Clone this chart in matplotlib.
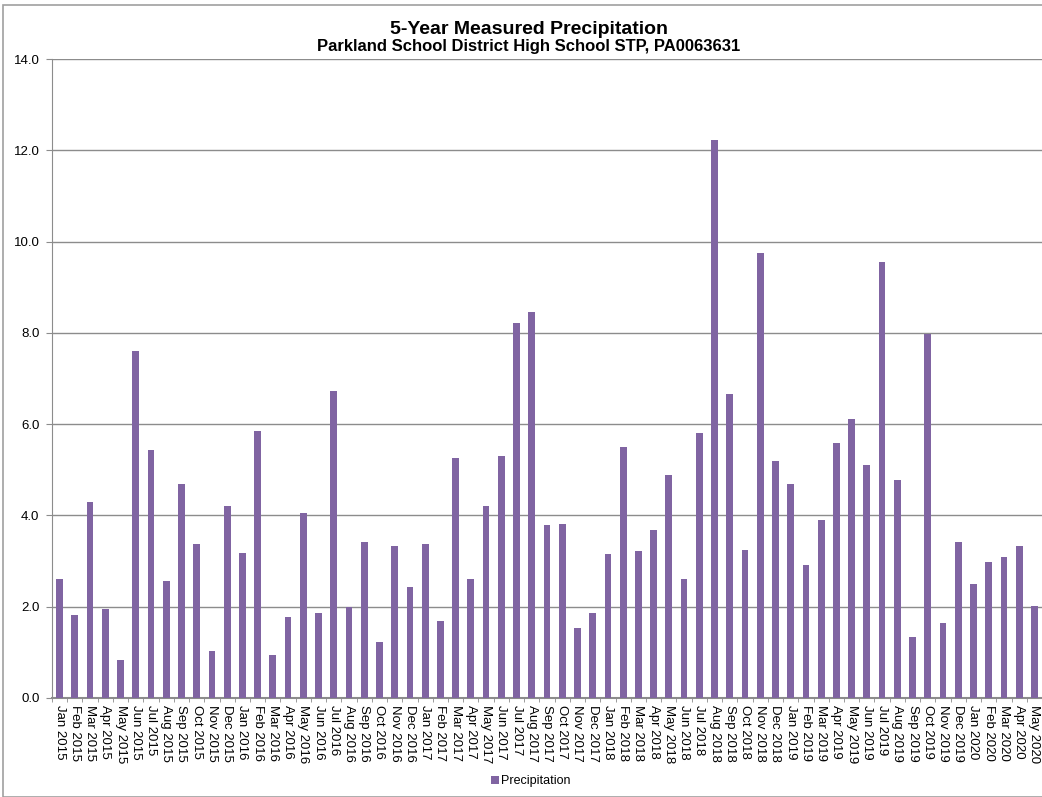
import matplotlib
matplotlib.use("Agg")
import matplotlib.pyplot as plt
from matplotlib.patches import Rectangle

plt.rcParams['font.family'] = ['Liberation Sans', 'DejaVu Sans']

months = ["Jan", "Feb", "Mar", "Apr", "May", "Jun", "Jul", "Aug", "Sep", "Oct", "Nov", "Dec"]
labels = [f"{m} {y}" for y in range(2015, 2021) for m in months][:65]

precip = [2.61, 1.82, 4.29, 1.95, 0.83, 7.60, 5.43, 2.56, 4.69, 3.37, 1.03, 4.21,
          3.18, 5.85, 0.94, 1.77, 4.05, 1.86, 6.73, 1.99, 3.42, 1.23, 3.33, 2.43,
          3.37, 1.69, 5.26, 2.61, 4.21, 5.30, 8.22, 8.46, 3.79, 3.81, 1.53, 1.86,
          3.16, 5.50, 3.22, 3.68, 4.89, 2.61, 5.81, 12.23, 6.66, 3.24, 9.75, 5.19,
          4.69, 2.91, 3.90, 5.59, 6.11, 5.10, 9.55, 4.78, 1.34, 7.98, 1.64, 3.42,
          2.50, 2.98, 3.09, 3.33, 2.02]

W, H = 1042, 797
fig = plt.figure(figsize=(W / 100, H / 100), dpi=100)
fig.patches.append(Rectangle((3 / W, 0), 1, 1 - 5 / H, transform=fig.transFigure,
                             fill=False, edgecolor='#a0a0a0', linewidth=1.2))

ax = fig.add_axes([52 / W, 1 - 698 / H, 1 - 52 / W, (698 - 59) / H])
x = list(range(len(precip)))
ax.bar(x, precip, width=0.44, color='#8064A2', label='Precipitation', zorder=3)

ax.set_ylim(0, 14)
ax.set_xlim(-0.46, 64.12)
yt = [0, 2, 4, 6, 8, 10, 12, 14]
ax.set_yticks(yt)
ax.set_yticklabels([f"{v:.1f}" for v in yt], fontsize=9.5)
ax.yaxis.grid(True, color='#8c8c8c', linewidth=1.0, zorder=0)
ax.set_xticks(x)
ax.set_xticklabels(labels, rotation=270, fontsize=9.5, va='top', ha='center')
ax.set_xticks([i + 0.5 for i in range(-1, 65)], minor=True)
ax.tick_params(axis='x', which='major', length=0, pad=5)
ax.tick_params(axis='x', which='minor', length=3, color='#8c8c8c')
ax.tick_params(axis='y', length=4, color='#8c8c8c', pad=5)
for s in ['top', 'right']:
    ax.spines[s].set_visible(False)
ax.spines['left'].set_color('#8c8c8c')
ax.spines['bottom'].set_color('#8c8c8c')
ax.spines['bottom'].set_linewidth(1.5)

fig.text(529 / W, 1 - 29 / H, "5-Year Measured Precipitation", ha='center', va='center',
         fontsize=14, fontweight='bold')
fig.text(529 / W, 1 - 47 / H, "Parkland School District High School STP, PA0063631",
         ha='center', va='center', fontsize=12, fontweight='bold')

fig.legend(loc='center', bbox_to_anchor=(531 / W, 1 - 781 / H), frameon=False,
           fontsize=9, handlelength=0.6, handleheight=0.6, handletextpad=0.2)

fig.savefig("out.png", dpi=100)
